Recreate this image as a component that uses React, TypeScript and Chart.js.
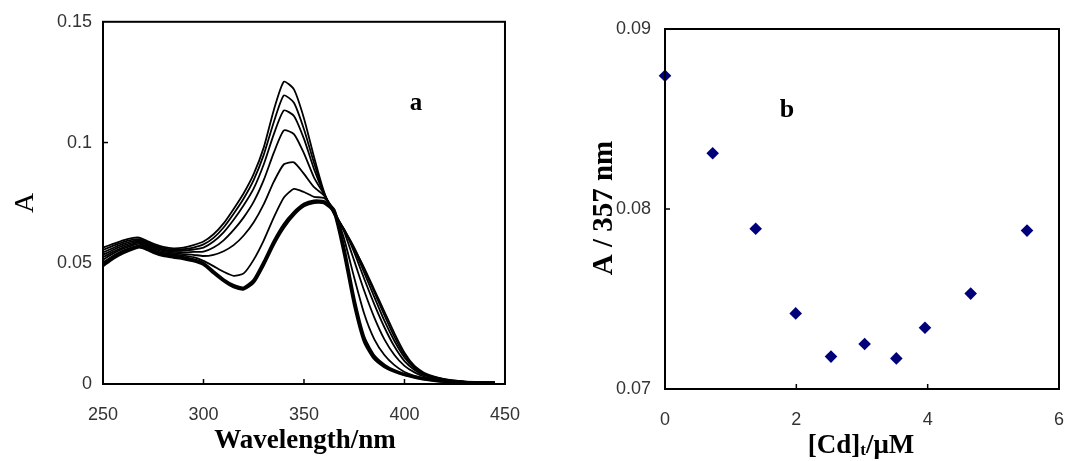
import React, { useEffect, useRef } from 'react';
import { Chart, registerables } from 'chart.js';

Chart.register(...registerables);

// ---------- Panel a: absorption spectra ----------
const wavelengths = [250, 255, 260, 265, 268, 272, 276, 280, 285, 290, 295, 300, 305, 310, 315, 320, 325, 330, 335, 340, 345, 350, 355, 360, 365, 370, 375, 380, 385, 390, 395, 400, 405, 410, 420, 430, 440, 445];

const spectrum1 = [0.0565, 0.0580, 0.0595, 0.0605, 0.0606, 0.0592, 0.0578, 0.0568, 0.0562, 0.0565, 0.0575, 0.0590, 0.0620, 0.0665, 0.0725, 0.0790, 0.0870, 0.0980, 0.1135, 0.1252, 0.1220, 0.1100, 0.0940, 0.0795, 0.0705, 0.0635, 0.0560, 0.0480, 0.0390, 0.0300, 0.0210, 0.0130, 0.0075, 0.0045, 0.0020, 0.0010, 0.0006, 0.0005];
const spectrum2 = [0.0555, 0.0572, 0.0588, 0.0598, 0.0600, 0.0587, 0.0573, 0.0563, 0.0557, 0.0558, 0.0565, 0.0578, 0.0605, 0.0648, 0.0705, 0.0768, 0.0845, 0.0950, 0.1085, 0.1195, 0.1165, 0.1055, 0.0915, 0.0790, 0.0703, 0.0638, 0.0565, 0.0475, 0.0380, 0.0285, 0.0195, 0.0120, 0.0070, 0.0042, 0.0019, 0.0010, 0.0006, 0.0005];
const spectrum3 = [0.0545, 0.0563, 0.0580, 0.0592, 0.0595, 0.0582, 0.0568, 0.0558, 0.0552, 0.0552, 0.0557, 0.0565, 0.0590, 0.0628, 0.0680, 0.0740, 0.0810, 0.0910, 0.1035, 0.1133, 0.1110, 0.1015, 0.0890, 0.0788, 0.0705, 0.0640, 0.0560, 0.0460, 0.0360, 0.0262, 0.0178, 0.0110, 0.0065, 0.0040, 0.0018, 0.0009, 0.0006, 0.0005];
const spectrum4 = [0.0535, 0.0555, 0.0573, 0.0586, 0.0590, 0.0577, 0.0563, 0.0553, 0.0547, 0.0545, 0.0547, 0.0548, 0.0565, 0.0595, 0.0638, 0.0690, 0.0755, 0.0845, 0.0958, 0.1050, 0.1035, 0.0955, 0.0855, 0.0785, 0.0710, 0.0640, 0.0545, 0.0435, 0.0330, 0.0235, 0.0155, 0.0095, 0.0058, 0.0036, 0.0016, 0.0009, 0.0006, 0.0005];
const spectrum5 = [0.0525, 0.0547, 0.0566, 0.0580, 0.0585, 0.0573, 0.0558, 0.0548, 0.0542, 0.0538, 0.0535, 0.0530, 0.0535, 0.0550, 0.0575, 0.0615, 0.0670, 0.0745, 0.0838, 0.0910, 0.0918, 0.0870, 0.0815, 0.0780, 0.0715, 0.0630, 0.0510, 0.0385, 0.0275, 0.0185, 0.0120, 0.0075, 0.0048, 0.0030, 0.0014, 0.0008, 0.0006, 0.0005];
const spectrum6 = [0.0515, 0.0540, 0.0560, 0.0575, 0.0580, 0.0568, 0.0553, 0.0543, 0.0537, 0.0532, 0.0525, 0.0510, 0.0488, 0.0465, 0.0448, 0.0458, 0.0515, 0.0595, 0.0690, 0.0772, 0.0808, 0.0795, 0.0775, 0.0770, 0.0720, 0.0600, 0.0440, 0.0290, 0.0185, 0.0120, 0.0078, 0.0050, 0.0034, 0.0024, 0.0012, 0.0007, 0.0005, 0.0005];
const spectrum7 = [0.0500, 0.0528, 0.0550, 0.0566, 0.0572, 0.0562, 0.0547, 0.0537, 0.0530, 0.0524, 0.0515, 0.0500, 0.0465, 0.0432, 0.0408, 0.0398, 0.0430, 0.0505, 0.0590, 0.0660, 0.0710, 0.0745, 0.0758, 0.0755, 0.0720, 0.0560, 0.0350, 0.0190, 0.0115, 0.0078, 0.0055, 0.0040, 0.0030, 0.0022, 0.0011, 0.0007, 0.0005, 0.0005];
const spectrum8 = [0.0490, 0.0520, 0.0543, 0.0560, 0.0567, 0.0557, 0.0542, 0.0532, 0.0525, 0.0519, 0.0510, 0.0495, 0.0460, 0.0427, 0.0402, 0.0393, 0.0422, 0.0495, 0.0580, 0.0650, 0.0702, 0.0738, 0.0752, 0.0750, 0.0712, 0.0540, 0.0330, 0.0175, 0.0105, 0.0072, 0.0052, 0.0038, 0.0028, 0.0020, 0.0010, 0.0006, 0.0005, 0.0005];

const spectra = [spectrum1, spectrum2, spectrum3, spectrum4, spectrum5, spectrum6, spectrum7, spectrum8];

const aXTicks = [250, 300, 350, 400, 450];
const aXTickLabels = ['250', '300', '350', '400', '450'];
const aYTicks = [0, 0.05, 0.1, 0.15];
const aYTickLabels = ['0', '0.05', '0.1', '0.15'];

// ---------- Panel b: absorbance at 357 nm vs [Cd] ----------
const cdConcentration = [0, 0.726, 1.381, 1.99, 2.528, 3.04, 3.523, 3.959, 4.655, 5.513];
const absorbance357 = [0.0874, 0.0831, 0.0789, 0.0742, 0.0718, 0.0725, 0.0717, 0.0734, 0.0753, 0.0788];

const bXTicks = [0, 2, 4, 6];
const bXTickLabels = ['0', '2', '4', '6'];
const bYTicks = [0.07, 0.08, 0.09];
const bYTickLabels = ['0.07', '0.08', '0.09'];

const SERIF = '"Liberation Serif", "Times New Roman", serif';
const SANS = '"Liberation Sans", Arial, sans-serif';

const panelPlugin = {
  id: 'panel',
  afterDatasetsDraw(chart: any) {
    const { ctx, chartArea: ca, scales } = chart;
    ctx.save();
    ctx.strokeStyle = '#000';
    ctx.lineWidth = 2;
    ctx.strokeRect(ca.left, ca.top, ca.right - ca.left, ca.bottom - ca.top);
    ctx.lineWidth = 1.5;
    const len = 5;
    scales.x.ticks.forEach((t: any) => {
      const px = scales.x.getPixelForValue(t.value);
      if (px <= ca.left + 1 || px >= ca.right - 1) return;
      ctx.beginPath();
      ctx.moveTo(px, ca.bottom);
      ctx.lineTo(px, ca.bottom - len);
      ctx.stroke();
    });
    scales.y.ticks.forEach((t: any) => {
      const py = scales.y.getPixelForValue(t.value);
      if (py <= ca.top + 1 || py >= ca.bottom - 1) return;
      ctx.beginPath();
      ctx.moveTo(ca.left, py);
      ctx.lineTo(ca.left + len, py);
      ctx.stroke();
    });
    ctx.restore();
  },
  afterDraw(chart: any, _args: any, opts: any) {
    const { ctx } = chart;
    (opts.texts || []).forEach((t: any) => {
      ctx.save();
      ctx.fillStyle = '#000';
      ctx.font = t.font;
      ctx.textBaseline = 'alphabetic';
      ctx.translate(t.x, t.y);
      if (t.rotate) ctx.rotate(t.rotate);
      if (t.parts) {
        let total = 0;
        const widths = t.parts.map((p: any) => {
          ctx.font = p.font;
          const w = ctx.measureText(p.text).width;
          total += w;
          return w;
        });
        let x = -total / 2;
        ctx.textAlign = 'left';
        t.parts.forEach((p: any, i: number) => {
          ctx.font = p.font;
          ctx.fillText(p.text, x, p.dy || 0);
          x += widths[i];
        });
      } else {
        ctx.textAlign = 'center';
        ctx.fillText(t.text, 0, 0);
      }
      ctx.restore();
    });
  },
};

function makeScale(min: number, max: number, values: number[], labels: string[], size: number, horizontal: boolean, padding: number) {
  return {
    type: 'linear',
    min,
    max,
    grid: { display: false, drawTicks: false },
    border: { display: false },
    afterBuildTicks: (scale: any) => {
      scale.ticks = values.map((v) => ({ value: v }));
    },
    afterFit: (scale: any) => {
      if (horizontal) scale.height = size;
      else scale.width = size;
    },
    ticks: {
      callback: (_v: any, i: number) => labels[i],
      padding,
      color: '#333',
      font: { family: SANS, size: 18 },
      maxRotation: 0,
      autoSkip: false,
    },
  };
}

export default function App() {
  const leftRef = useRef<HTMLCanvasElement>(null);
  const rightRef = useRef<HTMLCanvasElement>(null);

  useEffect(() => {
    const left = new Chart(leftRef.current as HTMLCanvasElement, {
      type: 'line',
      data: {
        datasets: spectra.map((s, i) => ({
          data: wavelengths.map((w, j) => ({ x: w, y: s[j] })),
          borderColor: '#000',
          borderWidth: i >= 6 ? 3 : 1.8,
          pointRadius: 0,
          tension: 0.2,
          fill: false,
        })),
      },
      options: {
        responsive: false,
        animation: false,
        events: [],
        layout: { padding: { top: 20, right: 35, left: 0, bottom: 0 } },
        scales: {
          x: makeScale(250, 450, aXTicks, aXTickLabels, 77, true, 20) as any,
          y: makeScale(0, 0.15, aYTicks, aYTickLabels, 103, false, 11) as any,
        },
        plugins: {
          legend: { display: false },
          tooltip: { enabled: false },
          panel: {
            texts: [
              { text: 'A', x: 33, y: 203, font: `28px ${SERIF}`, rotate: -Math.PI / 2 },
              { text: 'Wavelength/nm', x: 305, y: 448, font: `bold 27px ${SERIF}` },
              { text: 'a', x: 416, y: 110, font: `bold 25px ${SERIF}` },
            ],
          },
        } as any,
      },
      plugins: [panelPlugin],
    });

    const right = new Chart(rightRef.current as HTMLCanvasElement, {
      type: 'scatter',
      data: {
        datasets: [
          {
            data: cdConcentration.map((c, i) => ({ x: c, y: absorbance357[i] })),
            pointStyle: 'rectRot',
            pointRadius: 6.3,
            pointBackgroundColor: '#00007a',
            pointBorderColor: '#00007a',
            pointBorderWidth: 0,
            clip: false,
          },
        ],
      },
      options: {
        responsive: false,
        animation: false,
        events: [],
        layout: { padding: { top: 29, right: 26, left: 0, bottom: 0 } },
        scales: {
          x: makeScale(0, 6, bXTicks, bXTickLabels, 72, true, 20) as any,
          y: makeScale(0.07, 0.09, bYTicks, bYTickLabels, 125, false, 14) as any,
        },
        plugins: {
          legend: { display: false },
          tooltip: { enabled: false },
          panel: {
            texts: [
              { text: 'A / 357 nm', x: 72, y: 208, font: `bold 29px ${SERIF}`, rotate: -Math.PI / 2 },
              {
                x: 321,
                y: 453,
                parts: [
                  { text: '[Cd]', font: `bold 27px ${SERIF}` },
                  { text: 't', font: `bold 17px ${SERIF}`, dy: 2 },
                  { text: '/\u03BCM', font: `bold 27px ${SERIF}` },
                ],
              },
              { text: 'b', x: 247, y: 117, font: `bold 26px ${SERIF}` },
            ],
          },
        } as any,
      },
      plugins: [panelPlugin],
    });

    return () => {
      left.destroy();
      right.destroy();
    };
  }, []);

  return (
    <div style={{ position: 'absolute', left: 0, top: 0, width: 1085, height: 461, background: '#fff' }}>
      <canvas ref={leftRef} width={540} height={461} style={{ position: 'absolute', left: 0, top: 0, width: 540, height: 461 }} />
      <canvas ref={rightRef} width={545} height={461} style={{ position: 'absolute', left: 540, top: 0, width: 545, height: 461 }} />
    </div>
  );
}
